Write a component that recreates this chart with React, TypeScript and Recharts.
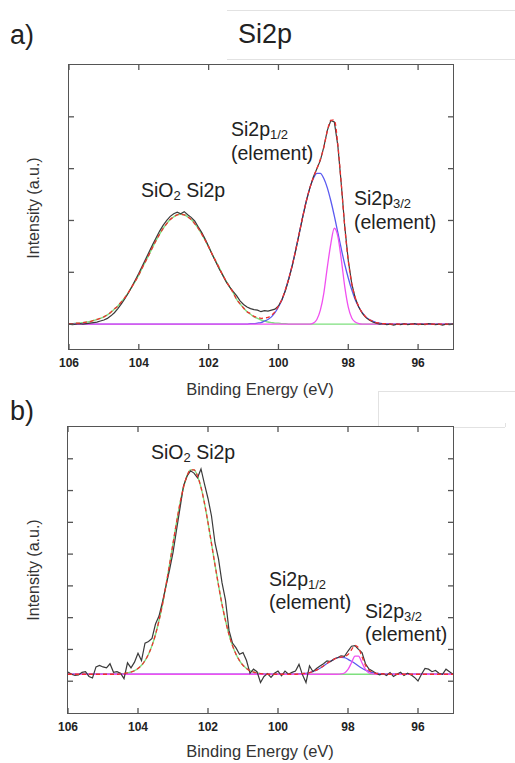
import React from 'react';
import { LineChart, Line, XAxis, YAxis } from 'recharts';

const FONT = '"Liberation Sans", Arial, Helvetica, sans-serif';

// binding energy grid (eV), shared by both spectra
const energies = [
	106.0, 105.9, 105.8, 105.7, 105.6, 105.5, 105.4, 105.3, 105.2, 105.1,
	105.0, 104.9, 104.8, 104.7, 104.6, 104.5, 104.4, 104.3, 104.2, 104.1,
	104.0, 103.9, 103.8, 103.7, 103.6, 103.5, 103.4, 103.3, 103.2, 103.1,
	103.0, 102.9, 102.8, 102.7, 102.6, 102.5, 102.4, 102.3, 102.2, 102.1,
	102.0, 101.9, 101.8, 101.7, 101.6, 101.5, 101.4, 101.3, 101.2, 101.1,
	101.0, 100.9, 100.8, 100.7, 100.6, 100.5, 100.4, 100.3, 100.2, 100.1,
	100.0, 99.9, 99.8, 99.7, 99.6, 99.5, 99.4, 99.3, 99.2, 99.1,
	99.0, 98.9, 98.8, 98.7, 98.6, 98.5, 98.4, 98.3, 98.2, 98.1,
	98.0, 97.9, 97.8, 97.7, 97.6, 97.5, 97.4, 97.3, 97.2, 97.1,
	97.0, 96.9, 96.8, 96.7, 96.6, 96.5, 96.4, 96.3, 96.2, 96.1,
	96.0, 95.9, 95.8, 95.7, 95.6, 95.5, 95.4, 95.3, 95.2, 95.1,
	95.0,
];
const energyTicks = [106, 104, 102, 100, 98, 96];

// panel a)
const measuredA = [
	0.0, -0.01, 0.0, 0.01, 0.0, 0.01, 0.02, 0.03, 0.04, 0.06,
	0.08, 0.11, 0.16, 0.22, 0.3, 0.39, 0.49, 0.6, 0.72, 0.85,
	0.98, 1.12, 1.26, 1.4, 1.54, 1.67, 1.8, 1.91, 2.0, 2.08,
	2.13, 2.16, 2.13, 2.17, 2.11, 2.06, 1.99, 1.88, 1.77, 1.64,
	1.5, 1.35, 1.21, 1.07, 0.95, 0.82, 0.72, 0.63, 0.55, 0.45,
	0.38, 0.33, 0.3, 0.28, 0.27, 0.24, 0.26, 0.25, 0.27, 0.29,
	0.35, 0.47, 0.65, 0.88, 1.14, 1.44, 1.76, 2.08, 2.38, 2.63,
	2.84, 3.0, 3.16, 3.42, 3.74, 3.93, 3.9, 3.45, 2.7, 1.88,
	1.23, 0.78, 0.5, 0.33, 0.21, 0.13, 0.08, 0.04, 0.02, 0.0,
	0.01, -0.01, 0.0, -0.02, 0.0, -0.01, 0.01, -0.01, 0.0, 0.01,
	-0.01, 0.0, -0.01, 0.01, 0.0, -0.01, 0.0, -0.02, 0.0, -0.01,
	0.0,
];
const envelopeA = [
	0.01, 0.01, 0.02, 0.02, 0.03, 0.04, 0.05, 0.07, 0.09, 0.11,
	0.14, 0.18, 0.23, 0.29, 0.35, 0.43, 0.51, 0.61, 0.72, 0.83,
	0.95, 1.09, 1.22, 1.35, 1.49, 1.62, 1.74, 1.85, 1.94, 2.02,
	2.07, 2.11, 2.12, 2.11, 2.07, 2.02, 1.94, 1.85, 1.74, 1.62,
	1.49, 1.35, 1.22, 1.09, 0.95, 0.83, 0.72, 0.61, 0.48, 0.39,
	0.31, 0.24, 0.2, 0.15, 0.13, 0.11, 0.12, 0.13, 0.17, 0.24,
	0.35, 0.48, 0.67, 0.89, 1.15, 1.45, 1.77, 2.09, 2.38, 2.63,
	2.83, 3.0, 3.18, 3.41, 3.73, 3.93, 3.94, 3.47, 2.7, 1.87,
	1.22, 0.78, 0.51, 0.34, 0.22, 0.14, 0.09, 0.06, 0.03, 0.02,
	0.01, 0.01, 0, 0, 0, 0, 0, 0, 0, 0,
	0, 0, 0, 0, 0, 0, 0, 0, 0, 0,
	0,
];
const oxideA = [
	0.01, 0.01, 0.02, 0.02, 0.03, 0.04, 0.05, 0.07, 0.09, 0.11,
	0.14, 0.18, 0.23, 0.29, 0.35, 0.43, 0.51, 0.61, 0.72, 0.83,
	0.95, 1.09, 1.22, 1.35, 1.49, 1.62, 1.74, 1.85, 1.94, 2.02,
	2.07, 2.11, 2.12, 2.11, 2.07, 2.02, 1.94, 1.85, 1.74, 1.62,
	1.49, 1.35, 1.22, 1.09, 0.95, 0.83, 0.72, 0.61, 0.48, 0.39,
	0.31, 0.24, 0.19, 0.14, 0.11, 0.08, 0.06, 0.04, 0.03, 0.02,
	0.02, 0.01, 0.01, 0, 0, 0, 0, 0, 0, 0,
	0, 0, 0, 0, 0, 0, 0, 0, 0, 0,
	0, 0, 0, 0, 0, 0, 0, 0, 0, 0,
	0, 0, 0, 0, 0, 0, 0, 0, 0, 0,
	0, 0, 0, 0, 0, 0, 0, 0, 0, 0,
	0,
];
const p12A = [
	0, 0, 0, 0, 0, 0, 0, 0, 0, 0,
	0, 0, 0, 0, 0, 0, 0, 0, 0, 0,
	0, 0, 0, 0, 0, 0, 0, 0, 0, 0,
	0, 0, 0, 0, 0, 0, 0, 0, 0, 0,
	0, 0, 0, 0, 0, 0, 0, 0, 0, 0,
	0, 0, 0.01, 0.01, 0.02, 0.03, 0.06, 0.09, 0.14, 0.22,
	0.33, 0.47, 0.66, 0.89, 1.15, 1.45, 1.77, 2.09, 2.38, 2.63,
	2.81, 2.91, 2.91, 2.81, 2.63, 2.38, 2.09, 1.77, 1.45, 1.15,
	0.89, 0.66, 0.47, 0.33, 0.22, 0.14, 0.09, 0.06, 0.03, 0.02,
	0.01, 0.01, 0, 0, 0, 0, 0, 0, 0, 0,
	0, 0, 0, 0, 0, 0, 0, 0, 0, 0,
	0,
];
const p32A = [
	0, 0, 0, 0, 0, 0, 0, 0, 0, 0,
	0, 0, 0, 0, 0, 0, 0, 0, 0, 0,
	0, 0, 0, 0, 0, 0, 0, 0, 0, 0,
	0, 0, 0, 0, 0, 0, 0, 0, 0, 0,
	0, 0, 0, 0, 0, 0, 0, 0, 0, 0,
	0, 0, 0, 0, 0, 0, 0, 0, 0, 0,
	0, 0, 0, 0, 0, 0, 0, 0, 0, 0,
	0.02, 0.09, 0.27, 0.6, 1.1, 1.55, 1.85, 1.7, 1.25, 0.72,
	0.33, 0.12, 0.04, 0.01, 0, 0, 0, 0, 0, 0,
	0, 0, 0, 0, 0, 0, 0, 0, 0, 0,
	0, 0, 0, 0, 0, 0, 0, 0, 0, 0,
	0,
];

// panel b)
const measuredB = [
	0.29, 0.22, 0.18, 0.2, 0.28, 0.3, 0.15, 0.1, 0.45, 0.5,
	0.45, 0.42, 0.55, 0.28, 0.3, 0.25, 0.08, 0.58, 0.42, 0.6,
	0.88, 0.65, 1.2, 1.25, 1.35, 1.8, 2.05, 2.5, 3.0, 3.5,
	4.05, 4.75, 5.45, 6.15, 6.45, 6.62, 6.55, 6.4, 6.68, 6.2,
	5.75, 5.2, 4.35, 3.85, 3.1, 2.55, 1.6, 1.2, 1.05, 0.85,
	0.9, 0.65, 0.25, 0.38, 0.3, -0.04, 0.15, 0.24, 0.12, 0.25,
	0.32, 0.17, 0.32, 0.22, 0.28, 0.32, 0.53, 0.2, -0.04, 0.48,
	0.3, 0.4, 0.48, 0.55, 0.64, 0.62, 0.7, 0.74, 0.8, 0.78,
	0.95, 1.1, 1.12, 1.0, 0.9, 0.55, 0.38, 0.32, 0.25, 0.2,
	0.24, 0.18, 0.27, 0.15, 0.22, 0.28, 0.18, 0.25, 0.2, 0.12,
	0.01, 0.22, 0.4, 0.38, 0.3, 0.34, 0.25, 0.22, 0.38, 0.3,
	0.22,
];
const envelopeB = [
	0.22, 0.22, 0.22, 0.22, 0.22, 0.22, 0.22, 0.22, 0.22, 0.22,
	0.22, 0.22, 0.22, 0.22, 0.22, 0.23, 0.24, 0.26, 0.29, 0.33,
	0.4, 0.5, 0.65, 0.85, 1.12, 1.47, 1.91, 2.42, 3.02, 3.66,
	4.33, 4.99, 5.6, 6.1, 6.46, 6.65, 6.65, 6.46, 6.1, 5.6,
	4.99, 4.33, 3.66, 3.02, 2.42, 1.91, 1.47, 1.12, 0.85, 0.65,
	0.5, 0.4, 0.33, 0.29, 0.26, 0.24, 0.23, 0.22, 0.22, 0.22,
	0.22, 0.22, 0.22, 0.22, 0.22, 0.22, 0.23, 0.24, 0.25, 0.27,
	0.31, 0.35, 0.41, 0.48, 0.56, 0.63, 0.69, 0.74, 0.76, 0.78,
	0.84, 0.99, 1.13, 1.05, 0.77, 0.5, 0.35, 0.28, 0.25, 0.24,
	0.23, 0.22, 0.22, 0.22, 0.22, 0.22, 0.22, 0.22, 0.22, 0.22,
	0.22, 0.22, 0.22, 0.22, 0.22, 0.22, 0.22, 0.22, 0.22, 0.22,
	0.22,
];
const oxideB = [
	0.22, 0.22, 0.22, 0.22, 0.22, 0.22, 0.22, 0.22, 0.22, 0.22,
	0.22, 0.22, 0.22, 0.22, 0.22, 0.23, 0.24, 0.26, 0.29, 0.33,
	0.4, 0.5, 0.65, 0.85, 1.12, 1.47, 1.91, 2.42, 3.02, 3.66,
	4.33, 4.99, 5.6, 6.1, 6.46, 6.65, 6.65, 6.46, 6.1, 5.6,
	4.99, 4.33, 3.66, 3.02, 2.42, 1.91, 1.47, 1.12, 0.85, 0.65,
	0.5, 0.4, 0.33, 0.29, 0.26, 0.24, 0.23, 0.22, 0.22, 0.22,
	0.22, 0.22, 0.22, 0.22, 0.22, 0.22, 0.22, 0.22, 0.22, 0.22,
	0.22, 0.22, 0.22, 0.22, 0.22, 0.22, 0.22, 0.22, 0.22, 0.22,
	0.22, 0.22, 0.22, 0.22, 0.22, 0.22, 0.22, 0.22, 0.22, 0.22,
	0.22, 0.22, 0.22, 0.22, 0.22, 0.22, 0.22, 0.22, 0.22, 0.22,
	0.22, 0.22, 0.22, 0.22, 0.22, 0.22, 0.22, 0.22, 0.22, 0.22,
	0.22,
];
const p12B = [
	0.22, 0.22, 0.22, 0.22, 0.22, 0.22, 0.22, 0.22, 0.22, 0.22,
	0.22, 0.22, 0.22, 0.22, 0.22, 0.22, 0.22, 0.22, 0.22, 0.22,
	0.22, 0.22, 0.22, 0.22, 0.22, 0.22, 0.22, 0.22, 0.22, 0.22,
	0.22, 0.22, 0.22, 0.22, 0.22, 0.22, 0.22, 0.22, 0.22, 0.22,
	0.22, 0.22, 0.22, 0.22, 0.22, 0.22, 0.22, 0.22, 0.22, 0.22,
	0.22, 0.22, 0.22, 0.22, 0.22, 0.22, 0.22, 0.22, 0.22, 0.22,
	0.22, 0.22, 0.22, 0.22, 0.22, 0.22, 0.23, 0.24, 0.25, 0.27,
	0.31, 0.35, 0.41, 0.48, 0.56, 0.63, 0.69, 0.74, 0.75, 0.74,
	0.69, 0.63, 0.56, 0.48, 0.41, 0.35, 0.31, 0.27, 0.25, 0.24,
	0.23, 0.22, 0.22, 0.22, 0.22, 0.22, 0.22, 0.22, 0.22, 0.22,
	0.22, 0.22, 0.22, 0.22, 0.22, 0.22, 0.22, 0.22, 0.22, 0.22,
	0.22,
];
const p32B = [
	0.22, 0.22, 0.22, 0.22, 0.22, 0.22, 0.22, 0.22, 0.22, 0.22,
	0.22, 0.22, 0.22, 0.22, 0.22, 0.22, 0.22, 0.22, 0.22, 0.22,
	0.22, 0.22, 0.22, 0.22, 0.22, 0.22, 0.22, 0.22, 0.22, 0.22,
	0.22, 0.22, 0.22, 0.22, 0.22, 0.22, 0.22, 0.22, 0.22, 0.22,
	0.22, 0.22, 0.22, 0.22, 0.22, 0.22, 0.22, 0.22, 0.22, 0.22,
	0.22, 0.22, 0.22, 0.22, 0.22, 0.22, 0.22, 0.22, 0.22, 0.22,
	0.22, 0.22, 0.22, 0.22, 0.22, 0.22, 0.22, 0.22, 0.22, 0.22,
	0.22, 0.22, 0.22, 0.22, 0.22, 0.22, 0.22, 0.22, 0.23, 0.26,
	0.37, 0.58, 0.79, 0.79, 0.58, 0.37, 0.26, 0.23, 0.22, 0.22,
	0.22, 0.22, 0.22, 0.22, 0.22, 0.22, 0.22, 0.22, 0.22, 0.22,
	0.22, 0.22, 0.22, 0.22, 0.22, 0.22, 0.22, 0.22, 0.22, 0.22,
	0.22,
];

const buildRows = (measured: number[], envelope: number[], oxide: number[], p12: number[], p32: number[]) =>
	energies.map((e, i) => ({ e, measured: measured[i], envelope: envelope[i], oxide: oxide[i], p12: p12[i], p32: p32[i] }));

const rowsA = buildRows(measuredA, envelopeA, oxideA, p12A, p32A);
const rowsB = buildRows(measuredB, envelopeB, oxideB, p12B, p32B);

const AXIS = '#555';
const CHART_W = 515;
const X_AXIS_H = 30;

interface SpectrumProps {
	rows: ReturnType<typeof buildRows>;
	top: number;
	height: number;
	plot: { left: number; right: number; top: number; bottom: number };
	yDomain: [number, number];
	yTicks: number[];
}

// inward ticks on both the bottom and top edge, bold label under the bottom edge
const makeXTick = (plotTop: number, plotBottom: number) => (props: any) => {
	const { x, payload } = props;
	return (
		<g>
			<line x1={x} x2={x} y1={plotBottom} y2={plotBottom - 5} stroke={AXIS} strokeWidth={1.3} />
			<line x1={x} x2={x} y1={plotTop} y2={plotTop + 5} stroke={AXIS} strokeWidth={1.3} />
			<text x={x} y={plotBottom + 18} textAnchor="middle" fontSize={12} fontWeight={700} fill="#222" fontFamily={FONT}>
				{payload.value}
			</text>
		</g>
	);
};

// inward ticks on the left and right edge, no labels
const makeYTick = (plotLeft: number, plotRight: number) => (props: any) => {
	const { y } = props;
	return (
		<g>
			<line x1={plotLeft} x2={plotLeft + 5} y1={y} y2={y} stroke={AXIS} strokeWidth={1.3} />
			<line x1={plotRight} x2={plotRight - 5} y1={y} y2={y} stroke={AXIS} strokeWidth={1.3} />
		</g>
	);
};

const Spectrum = ({ rows, top, height, plot, yDomain, yTicks }: SpectrumProps) => {
	const localTop = plot.top - top;
	const localBottom = plot.bottom - top;
	const margin = {
		top: localTop,
		left: plot.left - 1,
		right: CHART_W - plot.right,
		bottom: height - localBottom - X_AXIS_H,
	};
	return (
		<div style={{ position: 'absolute', left: 0, top, width: CHART_W, height }}>
			<LineChart width={CHART_W} height={height} data={rows} margin={margin}>
				<XAxis
					dataKey="e"
					type="number"
					domain={[95, 106]}
					reversed
					allowDataOverflow
					ticks={energyTicks}
					interval={0}
					height={X_AXIS_H}
					axisLine={false}
					tickLine={false}
					tick={makeXTick(localTop, localBottom)}
				/>
				<YAxis
					width={1}
					domain={yDomain}
					ticks={yTicks}
					interval={0}
					allowDataOverflow
					axisLine={false}
					tickLine={false}
					tick={makeYTick(plot.left, plot.right)}
				/>
				<Line type="monotone" dataKey="oxide" stroke="#7ee07e" strokeWidth={1.4} dot={false} isAnimationActive={false} />
				<Line type="monotone" dataKey="p12" stroke="#5a5af0" strokeWidth={1.3} dot={false} isAnimationActive={false} />
				<Line type="monotone" dataKey="p32" stroke="#f050f0" strokeWidth={1.3} dot={false} isAnimationActive={false} />
				<Line type="linear" dataKey="measured" stroke="#3a3a3a" strokeWidth={1.2} dot={false} isAnimationActive={false} />
				<Line type="monotone" dataKey="envelope" stroke="#f03030" strokeWidth={1.3} strokeDasharray="4 3" dot={false} isAnimationActive={false} />
			</LineChart>
			{/* plot frame */}
			<div
				style={{
					position: 'absolute',
					left: plot.left - 0.7,
					top: localTop - 0.7,
					width: plot.right - plot.left + 1.4,
					height: localBottom - localTop + 1.4,
					border: `1.4px solid ${AXIS}`,
					boxSizing: 'border-box',
					pointerEvents: 'none',
				}}
			/>
		</div>
	);
};

const Txt = ({ x, capTop, size, children }: { x: number; capTop: number; size: number; children: React.ReactNode }) => (
	<div
		style={{
			position: 'absolute',
			left: x,
			top: capTop - 0.13 * size,
			fontSize: size,
			lineHeight: 1,
			fontFamily: FONT,
			color: '#222',
			whiteSpace: 'nowrap',
		}}
	>
		{children}
	</div>
);

const Sub = ({ children }: { children: React.ReactNode }) => (
	<span style={{ fontSize: 13, position: 'relative', top: 3 }}>{children}</span>
);

const YTitle = ({ cy }: { cy: number }) => (
	<div
		style={{
			position: 'absolute',
			left: 34 - 100,
			top: cy - 8,
			width: 200,
			height: 16,
			lineHeight: '16px',
			textAlign: 'center',
			fontSize: 16,
			fontFamily: FONT,
			color: '#333',
			transform: 'rotate(-90deg)',
			whiteSpace: 'nowrap',
		}}
	>
		Intensity (a.u.)
	</div>
);

const XTitle = ({ capTop }: { capTop: number }) => (
	<div
		style={{
			position: 'absolute',
			left: 110,
			width: 300,
			top: capTop - 0.13 * 16.5,
			fontSize: 16.5,
			lineHeight: 1,
			textAlign: 'center',
			fontFamily: FONT,
			color: '#333',
		}}
	>
		Binding Energy (eV)
	</div>
);

const rule = (style: React.CSSProperties) => <div style={{ position: 'absolute', background: '#e2e2e2', ...style }} />;

export default function App() {
	return (
		<div style={{ position: 'absolute', left: 0, top: 0, width: 515, height: 763, background: '#fff', overflow: 'hidden' }}>
			{rule({ left: 227, top: 10, width: 288, height: 1 })}
			{rule({ left: 227, top: 59, width: 288, height: 1 })}
			{rule({ left: 378, top: 391, width: 137, height: 1 })}
			{rule({ left: 378, top: 391, width: 1, height: 36 })}
			{rule({ left: 454, top: 427, width: 51, height: 1 })}
			{rule({ left: 505, top: 423, width: 1, height: 4 })}

			<Spectrum rows={rowsA} top={0} height={400} plot={{ left: 69, right: 453, top: 65, bottom: 349 }} yDomain={[-0.48, 5]} yTicks={[0, 1, 2, 3, 4]} />
			<Spectrum rows={rowsB} top={400} height={363} plot={{ left: 68, right: 453, top: 427, bottom: 713 }} yDomain={[-1, 8]} yTicks={[0, 1, 2, 3, 4, 5, 6, 7]} />

			<Txt x={10} capTop={26} size={27}>a)</Txt>
			<Txt x={238} capTop={25} size={27}>Si2p</Txt>
			<Txt x={10} capTop={402} size={27}>b)</Txt>

			<YTitle cy={208} />
			<YTitle cy={570} />
			<XTitle capTop={383} />
			<XTitle capTop={745} />

			<Txt x={141} capTop={184} size={19.5}>SiO<Sub>2</Sub> Si2p</Txt>
			<Txt x={231} capTop={123} size={19.5}>Si2p<Sub>1/2</Sub></Txt>
			<Txt x={231} capTop={147} size={19.5}>(element)</Txt>
			<Txt x={354} capTop={192} size={19.5}>Si2p<Sub>3/2</Sub></Txt>
			<Txt x={354} capTop={216} size={19.5}>(element)</Txt>

			<Txt x={151} capTop={446} size={19.5}>SiO<Sub>2</Sub> Si2p</Txt>
			<Txt x={269} capTop={573} size={19.5}>Si2p<Sub>1/2</Sub></Txt>
			<Txt x={269} capTop={596} size={19.5}>(element)</Txt>
			<Txt x={365} capTop={605} size={19.5}>Si2p<Sub>3/2</Sub></Txt>
			<Txt x={365} capTop={628} size={19.5}>(element)</Txt>
		</div>
	);
}
